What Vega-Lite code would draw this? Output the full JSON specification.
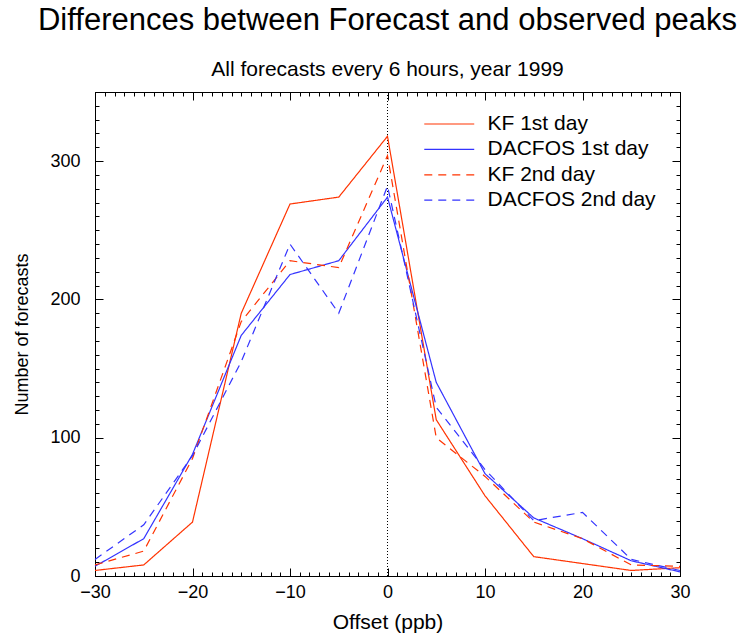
{
  "$schema": "https://vega.github.io/schema/vega-lite/v6.json",
  "width": 585,
  "height": 484,
  "autosize": "none",
  "padding": {"left": 95, "top": 92, "right": 62, "bottom": 57},
  "config": {
    "font": "Liberation Sans",
    "view": {"stroke": "black", "strokeWidth": 1},
    "axis": {"grid": false, "domainColor": "black", "tickColor": "black", "labelColor": "black", "titleColor": "black", "labelFont": "Liberation Sans", "titleFont": "Liberation Sans", "labelFontSize": 18, "titleFontSize": 18, "titleFontWeight": "normal", "tickWidth": 1, "domainWidth": 1}
  },
  "title": {"text": "Differences between Forecast and observed peaks", "subtitle": "All forecasts every 6 hours, year 1999", "font": "Liberation Sans", "subtitleFont": "Liberation Sans", "fontSize": 31, "fontWeight": "normal", "subtitleFontSize": 21, "anchor": "middle", "frame": "group", "offset": 11, "subtitlePadding": 22, "color": "black", "subtitleColor": "black"},
  "data": {"values": [
    {"series": "KF 1st day", "offset": -30, "count": 4},
    {"series": "KF 1st day", "offset": -25, "count": 8},
    {"series": "KF 1st day", "offset": -20, "count": 39},
    {"series": "KF 1st day", "offset": -15, "count": 190},
    {"series": "KF 1st day", "offset": -10, "count": 269},
    {"series": "KF 1st day", "offset": -5, "count": 274},
    {"series": "KF 1st day", "offset": 0, "count": 318},
    {"series": "KF 1st day", "offset": 5, "count": 113},
    {"series": "KF 1st day", "offset": 10, "count": 58},
    {"series": "KF 1st day", "offset": 15, "count": 14},
    {"series": "KF 1st day", "offset": 20, "count": 9},
    {"series": "KF 1st day", "offset": 25, "count": 4},
    {"series": "KF 1st day", "offset": 30, "count": 6},
    {"series": "DACFOS 1st day", "offset": -30, "count": 7},
    {"series": "DACFOS 1st day", "offset": -25, "count": 27},
    {"series": "DACFOS 1st day", "offset": -20, "count": 88},
    {"series": "DACFOS 1st day", "offset": -15, "count": 174},
    {"series": "DACFOS 1st day", "offset": -10, "count": 218},
    {"series": "DACFOS 1st day", "offset": -5, "count": 228},
    {"series": "DACFOS 1st day", "offset": 0, "count": 274},
    {"series": "DACFOS 1st day", "offset": 5, "count": 140},
    {"series": "DACFOS 1st day", "offset": 10, "count": 74},
    {"series": "DACFOS 1st day", "offset": 15, "count": 42},
    {"series": "DACFOS 1st day", "offset": 20, "count": 27},
    {"series": "DACFOS 1st day", "offset": 25, "count": 11},
    {"series": "DACFOS 1st day", "offset": 30, "count": 3},
    {"series": "KF 2nd day", "offset": -30, "count": 8},
    {"series": "KF 2nd day", "offset": -25, "count": 18},
    {"series": "KF 2nd day", "offset": -20, "count": 85},
    {"series": "KF 2nd day", "offset": -15, "count": 184},
    {"series": "KF 2nd day", "offset": -10, "count": 228},
    {"series": "KF 2nd day", "offset": -5, "count": 223},
    {"series": "KF 2nd day", "offset": 0, "count": 304},
    {"series": "KF 2nd day", "offset": 5, "count": 100},
    {"series": "KF 2nd day", "offset": 10, "count": 72},
    {"series": "KF 2nd day", "offset": 15, "count": 39},
    {"series": "KF 2nd day", "offset": 20, "count": 27},
    {"series": "KF 2nd day", "offset": 25, "count": 8},
    {"series": "KF 2nd day", "offset": 30, "count": 7},
    {"series": "DACFOS 2nd day", "offset": -30, "count": 12},
    {"series": "DACFOS 2nd day", "offset": -25, "count": 37},
    {"series": "DACFOS 2nd day", "offset": -20, "count": 87},
    {"series": "DACFOS 2nd day", "offset": -15, "count": 155},
    {"series": "DACFOS 2nd day", "offset": -10, "count": 240},
    {"series": "DACFOS 2nd day", "offset": -5, "count": 190},
    {"series": "DACFOS 2nd day", "offset": 0, "count": 282},
    {"series": "DACFOS 2nd day", "offset": 5, "count": 122},
    {"series": "DACFOS 2nd day", "offset": 10, "count": 77},
    {"series": "DACFOS 2nd day", "offset": 15, "count": 40},
    {"series": "DACFOS 2nd day", "offset": 20, "count": 46},
    {"series": "DACFOS 2nd day", "offset": 25, "count": 12},
    {"series": "DACFOS 2nd day", "offset": 30, "count": 4}
  ]},
  "layer": [
    {
      "data": {"values": [{"offset": 0}]},
      "mark": {"type": "rule", "color": "black", "strokeWidth": 1, "strokeDash": [1, 2]},
      "encoding": {
        "x": {"field": "offset", "type": "quantitative", "scale": {"domain": [-30, 30], "nice": false, "zero": false}, "axis": null}
      }
    },
    {
      "mark": {"type": "point", "opacity": 0},
      "encoding": {
        "x": {"field": "offset", "type": "quantitative", "axis": {"orient": "bottom", "values": [-30,-29,-28,-27,-26,-25,-24,-23,-22,-21,-20,-19,-18,-17,-16,-15,-14,-13,-12,-11,-10,-9,-8,-7,-6,-5,-4,-3,-2,-1,0,1,2,3,4,5,6,7,8,9,10,11,12,13,14,15,16,17,18,19,20,21,22,23,24,25,26,27,28,29,30], "offset": -4, "tickSize": 4, "domain": false, "labels": false, "title": null}},
        "y": {"field": "count", "type": "quantitative", "axis": {"orient": "left", "values": [0,10,20,30,40,50,60,70,80,90,100,110,120,130,140,150,160,170,180,190,200,210,220,230,240,250,260,270,280,290,300,310,320,330,340,350], "offset": -4, "tickSize": 4, "domain": false, "labels": false, "title": null}}
      }
    },
    {
      "mark": {"type": "point", "opacity": 0},
      "encoding": {
        "x": {"field": "offset", "type": "quantitative", "axis": {"orient": "top", "values": [-30,-29,-28,-27,-26,-25,-24,-23,-22,-21,-20,-19,-18,-17,-16,-15,-14,-13,-12,-11,-10,-9,-8,-7,-6,-5,-4,-3,-2,-1,0,1,2,3,4,5,6,7,8,9,10,11,12,13,14,15,16,17,18,19,20,21,22,23,24,25,26,27,28,29,30], "offset": -4, "tickSize": 4, "domain": false, "labels": false, "title": null}},
        "y": {"field": "count", "type": "quantitative", "axis": {"orient": "right", "values": [0,10,20,30,40,50,60,70,80,90,100,110,120,130,140,150,160,170,180,190,200,210,220,230,240,250,260,270,280,290,300,310,320,330,340,350], "offset": -4, "tickSize": 4, "domain": false, "labels": false, "title": null}}
      }
    },
    {
      "mark": {"type": "point", "opacity": 0},
      "encoding": {
        "x": {"field": "offset", "type": "quantitative", "axis": {"orient": "top", "values": [-30,-20,-10,0,10,20,30], "offset": -8, "tickSize": 8, "domain": false, "labels": false, "title": null}},
        "y": {"field": "count", "type": "quantitative", "axis": {"orient": "right", "values": [0,100,200,300], "offset": -8, "tickSize": 8, "domain": false, "labels": false, "title": null}}
      }
    },
    {
      "mark": {"type": "point", "opacity": 0},
      "encoding": {
        "x": {"field": "offset", "type": "quantitative", "axis": {"orient": "bottom", "values": [-30,-20,-10,0,10,20,30], "offset": -8, "tickSize": 8, "domain": false, "labels": false, "title": null}},
        "y": {"field": "count", "type": "quantitative", "axis": {"orient": "left", "values": [0,100,200,300], "offset": -8, "tickSize": 8, "domain": false, "labels": false, "title": null}}
      }
    },
    {
      "mark": {"type": "line", "strokeWidth": 1.2},
      "encoding": {
        "x": {"field": "offset", "type": "quantitative", "scale": {"domain": [-30, 30], "nice": false, "zero": false}, "axis": {"orient": "bottom", "values": [-30,-20,-10,0,10,20,30], "ticks": false, "labelPadding": 7, "title": "Offset (ppb)", "titleFontSize": 21, "titlePadding": 10, "labelFlush": false}},
        "y": {"field": "count", "type": "quantitative", "scale": {"domain": [0, 350], "nice": false}, "axis": {"orient": "left", "values": [0,100,200,300], "ticks": false, "labelPadding": 15, "title": "Number of forecasts", "titlePadding": 18}},
        "color": {"field": "series", "type": "nominal", "scale": {"domain": ["KF 1st day", "DACFOS 1st day", "KF 2nd day", "DACFOS 2nd day"], "range": ["#ff3300", "#3333ff", "#ff3300", "#3333ff"]},
          "legend": {"orient": "none", "legendX": 343.75, "legendY": 21.5, "title": null, "symbolType": "M-4,0H4", "symbolSize": 156, "symbolStrokeWidth": 1.2, "symbolFillColor": "transparent", "labelFontSize": 21, "labelFont": "Liberation Sans", "labelColor": "black", "labelOffset": 27.75, "labelLimit": 400, "rowPadding": 3.4, "padding": 0}},
        "strokeDash": {"field": "series", "type": "nominal", "scale": {"domain": ["KF 1st day", "DACFOS 1st day", "KF 2nd day", "DACFOS 2nd day"], "range": [[1, 0], [1, 0], [8, 6], [8, 6]]}}
      }
    }
  ],
  "resolve": {"axis": {"x": "independent", "y": "independent"}}
}
